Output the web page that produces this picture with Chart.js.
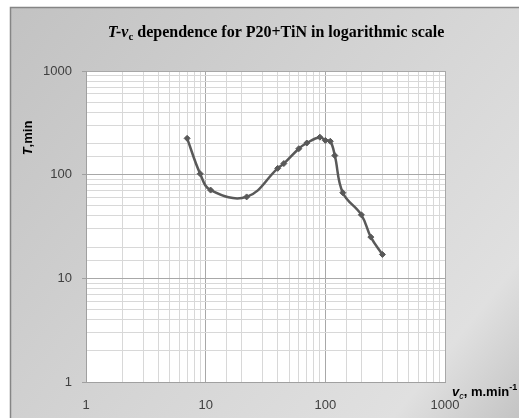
<!DOCTYPE html>
<html>
<head>
<meta charset="utf-8">
<script src="https://cdn.jsdelivr.net/npm/chart.js@4.4.1/dist/chart.umd.min.js"></script>
<style>
  html, body { margin: 0; padding: 0; background: #fff; }
  #wrap { width: 519px; height: 418px; }
</style>
</head>
<body>
<div id="wrap"><canvas id="chart" width="519" height="418"></canvas></div>
<script>
// cutting speed v_c (m/min) and tool life T (min)
const speeds = [7, 9, 11, 22, 40, 45, 60, 70, 90, 100, 110, 120, 140, 200, 240, 300];
const lifeT = [224, 102, 71, 61, 115, 128, 178, 202, 230, 214, 210, 153, 67, 41, 25, 17];
const axisMin = 1;
const axisMax = 1000;
const majorTicks = [1, 10, 100, 1000];

const points = speeds.map(function (v, i) { return { x: v, y: lifeT[i] }; });

function isMajor(v) { return majorTicks.indexOf(v) !== -1; }

// grey frame with gradient behind everything
const framePlugin = {
    id: 'frame',
    beforeDraw: function (chart) {
        const c = chart.ctx;
        c.save();
        const g = c.createLinearGradient(10, 7, 519, 418);
        g.addColorStop(0, '#c2c2c2');
        g.addColorStop(0.55, '#d6d6d6');
        g.addColorStop(0.85, '#e0e0e0');
        g.addColorStop(1, '#c4c4c4');
        c.fillStyle = g;
        c.fillRect(10, 7, 509, 411);
        c.strokeStyle = '#858585';
        c.lineWidth = 1.5;
        c.beginPath();
        c.moveTo(10.5, 418);
        c.lineTo(10.5, 7.5);
        c.lineTo(519, 7.5);
        c.stroke();
        // white plot area
        const a = chart.chartArea;
        c.fillStyle = '#ffffff';
        c.fillRect(a.left, a.top, a.right - a.left, a.bottom - a.top);
        c.restore();
    },
    afterDraw: function (chart) {
        const c = chart.ctx;
        c.save();
        c.fillStyle = '#000';
        c.textBaseline = 'alphabetic';

        // title: T-v_c dependence ...
        const rest = ' dependence for P20+TiN in logarithmic scale';
        c.font = 'italic bold 16px "Liberation Serif"';
        const w1 = c.measureText('T-v').width;
        c.font = 'bold 11px "Liberation Serif"';
        const w2 = c.measureText('c').width;
        c.font = 'bold 16px "Liberation Serif"';
        const w3 = c.measureText(rest).width;
        let x = 276 - (w1 + w2 + w3) / 2;
        c.font = 'italic bold 16px "Liberation Serif"';
        c.fillText('T-v', x, 37);
        x += w1;
        c.font = 'bold 11px "Liberation Serif"';
        c.fillText('c', x, 40);
        x += w2;
        c.font = 'bold 16px "Liberation Serif"';
        c.fillText(rest, x, 37);

        // y axis title, rotated
        c.save();
        c.translate(32, 138);
        c.rotate(-Math.PI / 2);
        c.textAlign = 'left';
        c.font = 'italic bold 13px "Liberation Sans"';
        const tw = c.measureText('T').width;
        c.font = 'bold 13px "Liberation Sans"';
        const mw = c.measureText(',min').width;
        c.font = 'italic bold 13px "Liberation Sans"';
        c.fillText('T', -(tw + mw) / 2, 0);
        c.font = 'bold 13px "Liberation Sans"';
        c.fillText(',min', -(tw + mw) / 2 + tw, 0);
        c.restore();

        // x axis title
        let xx = 452;
        c.font = 'italic bold 13px "Liberation Sans"';
        c.fillText('v', xx, 396);
        xx += c.measureText('v').width;
        c.font = 'italic 9px "Liberation Sans"';
        c.fillText('c', xx, 399);
        xx += c.measureText('c').width;
        c.font = 'bold 13px "Liberation Sans"';
        c.fillText(', m.min', xx, 396);
        xx += c.measureText(', m.min').width;
        c.font = 'bold 9px "Liberation Sans"';
        c.fillText('-1', xx, 390);
        c.restore();
    }
};

const gridColor = function (ctx) {
    if (!ctx.tick) return '#d8d8d8';
    return isMajor(ctx.tick.value) ? '#a8a8a8' : '#d8d8d8';
};

new Chart(document.getElementById('chart'), {
    type: 'line',
    data: {
        datasets: [{
            label: 'T',
            data: points,
            borderColor: '#595959',
            backgroundColor: '#595959',
            borderWidth: 2.5,
            tension: 0.4,
            pointStyle: 'rectRot',
            pointRadius: 3,
            pointBorderWidth: 1,
            pointBorderColor: '#595959',
            pointBackgroundColor: '#595959'
        }]
    },
    options: {
        responsive: false,
        animation: false,
        layout: { padding: { left: 10, top: 71, right: 74, bottom: 0 } },
        plugins: {
            legend: { display: false },
            title: { display: false },
            tooltip: { enabled: false }
        },
        scales: {
            x: {
                type: 'logarithmic',
                min: axisMin,
                max: axisMax,
                afterFit: function (s) { s.height = 36; },
                border: { color: '#a0a0a0', width: 1 },
                grid: { color: gridColor, drawTicks: false },
                ticks: {
                    autoSkip: false,
                    maxRotation: 0,
                    padding: 16,
                    color: '#404040',
                    font: { family: 'Liberation Sans', size: 13 },
                    callback: function (v) { return isMajor(v) ? String(v) : ''; }
                }
            },
            y: {
                type: 'logarithmic',
                min: axisMin,
                max: axisMax,
                afterFit: function (s) { s.width = 76; },
                border: { color: '#a0a0a0', width: 1 },
                grid: {
                    color: gridColor,
                    tickLength: 4,
                    tickColor: function (ctx) { return ctx.tick && isMajor(ctx.tick.value) ? '#a0a0a0' : 'rgba(0,0,0,0)'; }
                },
                ticks: {
                    autoSkip: false,
                    padding: 10,
                    color: '#404040',
                    font: { family: 'Liberation Sans', size: 13 },
                    callback: function (v) { return isMajor(v) ? String(v) : ''; }
                }
            }
        }
    },
    plugins: [framePlugin]
});
</script>
</body>
</html>
